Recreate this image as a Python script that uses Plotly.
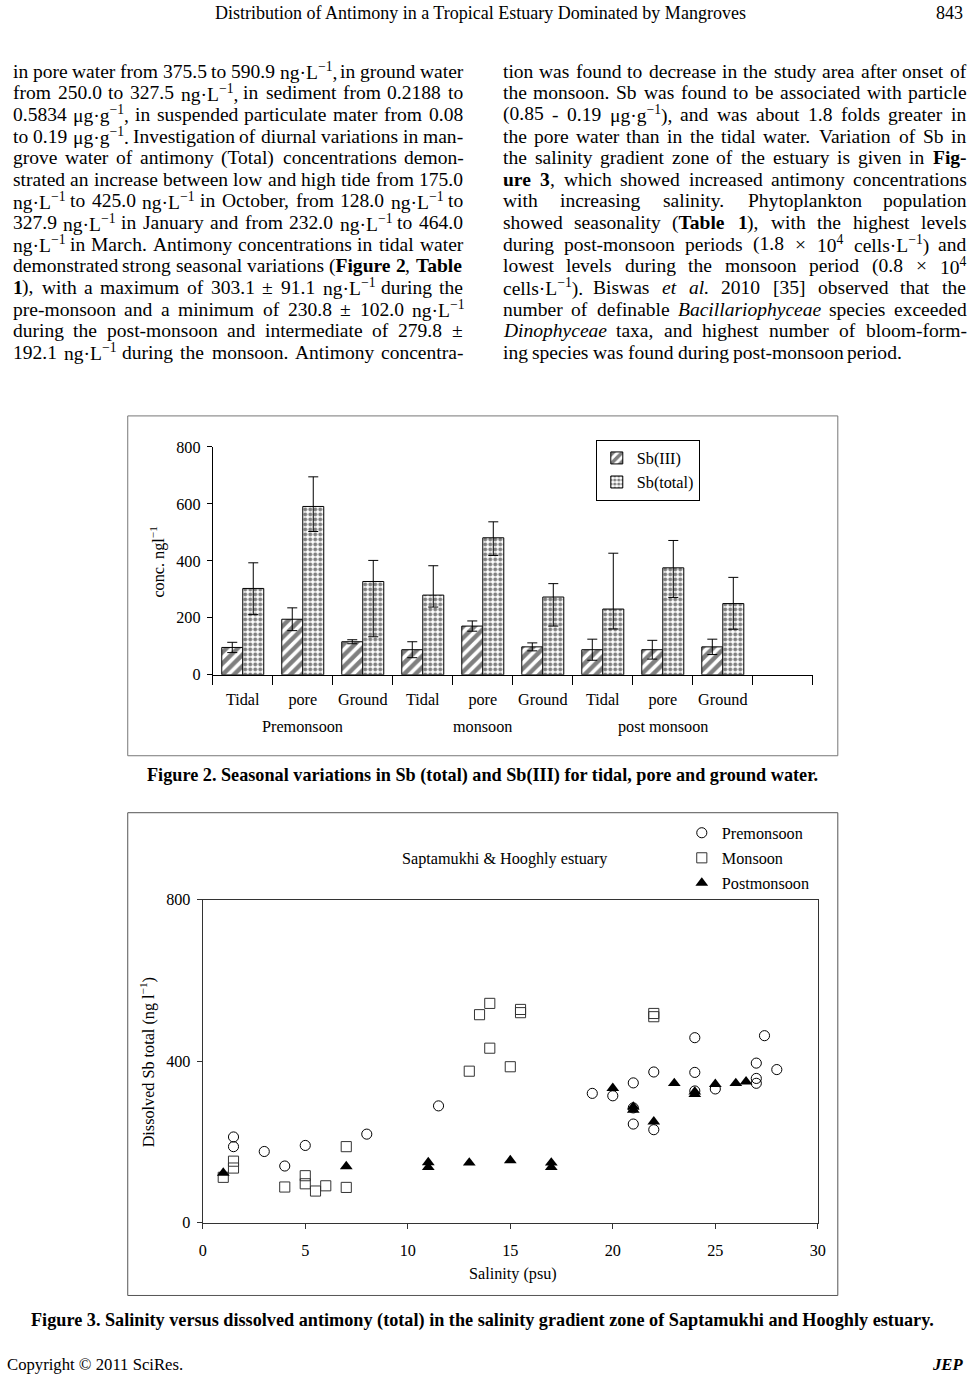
import re
import plotly.graph_objects as go

PAGE_W, PAGE_H = 967, 1386
FONT = "Liberation Serif"
# the photographed page comes out very slightly shrunk about its centre; pre-compensate
SHRINK = 0.9875
CX, CY = PAGE_W / 2, PAGE_H / 2
SHIFT_X, SHIFT_Y = 1.8, 1.8

# ---------------- Figure 2 data ----------------
fig2_categories = ["Tidal", "pore", "Ground", "Tidal", "pore", "Ground", "Tidal", "pore", "Ground"]
fig2_seasons = ["Premonsoon", "monsoon", "post monsoon"]
sb3 = [96, 195, 116, 88, 171, 98, 88, 88, 98]
sb3_err = [18, 40, 7, 28, 18, 14, 37, 33, 27]
sbt = [303.1, 590.9, 327.5, 279.8, 481, 273, 230.8, 375.5, 250.0]
sbt_err_plus = [90, 104, 74, 103, 56, 47, 196, 96, 92]
sbt_err_minus = [92, 88, 194, 42, 62, 102, 70, 104, 90]

# ---------------- Figure 3 data ----------------
pre_sal = [1.5, 1.5, 3, 4, 5, 8, 11.5, 19, 20, 21, 21, 21, 22, 22, 24, 24, 24, 25, 27, 27, 27, 27.4, 28]
pre_sb = [212, 188, 176, 140, 191, 219, 289, 320, 314, 346, 284, 244, 373, 230, 458, 372, 326, 331, 395, 357, 345, 463, 379]
mon_sal = [1, 1.5, 1.5, 4, 5, 5, 5.5, 6, 7, 7, 13, 13.5, 14, 14, 15, 15.5, 15.5, 22, 22]
mon_sb = [112, 152, 135, 88, 116, 96, 78, 91, 188, 87, 375, 515, 543, 432, 386, 520, 528, 510, 518]
post_sal = [1, 7, 11, 11, 13, 15, 17, 17, 20, 21, 21, 22, 23, 24, 24, 25, 26, 26.5]
post_sb = [123, 139, 149, 137, 148, 154, 148, 137, 333, 279, 287, 250, 345, 324, 318, 343, 345, 349]

# ---------------- Page text ----------------
header_title = "Distribution of Antimony in a Tropical Estuary Dominated by Mangroves"
page_number = "843"
left_lines = [
    "in pore water from 375.5 to 590.9 ng·L<sup>−1</sup>, in ground water",
    "from 250.0 to 327.5 ng·L<sup>−1</sup>, in sediment from 0.2188 to",
    "0.5834 μg·g<sup>−1</sup>, in suspended particulate mater from 0.08",
    "to 0.19 μg·g<sup>−1</sup>. Investigation of diurnal variations in man-",
    "grove water of antimony (Total) concentrations demon-",
    "strated an increase between low and high tide from 175.0",
    "ng·L<sup>−1</sup> to 425.0 ng·L<sup>−1</sup> in October, from 128.0 ng·L<sup>−1</sup> to",
    "327.9 ng·L<sup>−1</sup> in January and from 232.0 ng·L<sup>−1</sup> to 464.0",
    "ng·L<sup>−1</sup> in March. Antimony concentrations in tidal water",
    "demonstrated strong seasonal variations (<b>Figure 2</b>, <b>Table</b>",
    "<b>1</b>), with a maximum of 303.1 ± 91.1 ng·L<sup>−1</sup> during the",
    "pre-monsoon and a minimum of 230.8 ± 102.0 ng·L<sup>−1</sup>",
    "during the post-monsoon and intermediate of 279.8 ±",
    "192.1 ng·L<sup>−1</sup> during the monsoon. Antimony concentra-",
]
right_lines = [
    "tion was found to decrease in the study area after onset of",
    "the monsoon. Sb was found to be associated with particle",
    "(0.85 - 0.19 μg·g<sup>−1</sup>), and was about 1.8 folds greater in",
    "the pore water than in the tidal water. Variation of Sb in",
    "the salinity gradient zone of the estuary is given in <b>Fig-</b>",
    "<b>ure 3</b>, which showed increased antimony concentrations",
    "with increasing salinity. Phytoplankton population",
    "showed seasonality (<b>Table 1</b>), with the highest levels",
    "during post-monsoon periods (1.8 × 10<sup>4</sup> cells·L<sup>−1</sup>) and",
    "lowest levels during the monsoon period (0.8 × 10<sup>4</sup>",
    "cells·L<sup>−1</sup>). Biswas <i>et al.</i> 2010 [35] observed that the",
    "number of definable <i>Bacillariophyceae</i> species exceeded",
    "<i>Dinophyceae</i> taxa, and highest number of bloom-form-",
    "ing species was found during post-monsoon period.",
]
caption2 = "Figure 2. Seasonal variations in Sb (total) and Sb(III) for tidal, pore and ground water."
caption3 = ("Figure 3. Salinity versus dissolved antimony (total) in the salinity gradient zone "
            "of Saptamukhi and Hooghly estuary.")
footer_left = "Copyright © 2011 SciRes."
footer_right = "JEP"


def mx(x):
    return CX + (x - CX) / SHRINK + SHIFT_X


def my(y):
    return CY + (y - CY) / SHRINK + SHIFT_Y


def px(x):
    return mx(x) / PAGE_W


def py(y):
    return 1 - my(y) / PAGE_H


def sz(v):
    return v / SHRINK


# Times / Liberation Serif advance widths (1/1000 em)
REG = {' ': 250, '!': 333, '(': 333, ')': 333, ',': 250, '-': 333, '.': 250, '/': 278, ':': 278,
       ';': 278, '[': 333, ']': 333, '±': 549, '×': 564, '·': 250, 'μ': 576, '−': 564, '&': 778,
       '©': 760}
for d in "0123456789":
    REG[d] = 500
REG.update({'A': 722, 'B': 667, 'C': 667, 'D': 722, 'E': 611, 'F': 556, 'G': 722, 'H': 722, 'I': 333,
            'J': 389, 'K': 722, 'L': 611, 'M': 889, 'N': 722, 'O': 722, 'P': 556, 'Q': 722, 'R': 667,
            'S': 556, 'T': 611, 'U': 722, 'V': 722, 'W': 944, 'X': 722, 'Y': 722, 'Z': 611,
            'a': 444, 'b': 500, 'c': 444, 'd': 500, 'e': 444, 'f': 333, 'g': 500, 'h': 500, 'i': 278,
            'j': 278, 'k': 500, 'l': 278, 'm': 778, 'n': 500, 'o': 500, 'p': 500, 'q': 500, 'r': 333,
            's': 389, 't': 278, 'u': 500, 'v': 500, 'w': 722, 'x': 500, 'y': 500, 'z': 444})
BOLD = {'a': 500, 'b': 556, 'd': 556, 'h': 556, 'n': 556, 'p': 556, 'r': 444, 't': 333, 'u': 556,
        'F': 611, 'T': 667, 'S': 556, 'I': 389, 'l': 278, 'y': 500, 'v': 500, 'w': 722, 'k': 556,
        'm': 833, 'f': 333, 'g': 500, 'H': 778, 'P': 611, 'J': 500, 'E': 667}
ITAL = {'a': 500, 'y': 444, 'r': 389, 'B': 611, 'D': 722, 'h': 500}


def em_width(text, bold=False):
    state = {'b': bold, 'i': False, 'sup': False}
    total = 0.0
    for tok in re.split(r'(<[^>]+>)', text):
        if tok.startswith('<') and tok.endswith('>'):
            name = tok.strip('</>')
            state[name] = not tok.startswith('</')
            continue
        for ch in tok:
            w = REG.get(ch, 500)
            if state['b']:
                w = BOLD.get(ch, w)
            elif state['i']:
                w = ITAL.get(ch, w)
            if state['sup']:
                w *= 0.7
            total += w
    return total / 1000.0


def split_words(line):
    words = line.split(' ')
    open_tags = []
    out = []
    for w in words:
        prefix = ''.join('<%s>' % t for t in open_tags)
        for m in re.finditer(r'<(/?)(\w+)>', w):
            if m.group(1):
                if m.group(2) in open_tags:
                    open_tags.remove(m.group(2))
            else:
                open_tags.append(m.group(2))
        suffix = ''.join('</%s>' % t for t in reversed(open_tags))
        out.append(prefix + w + suffix)
    return out


annotations = []


def add_text(x, y, text, size, xanchor='left', angle=0, weight='normal', style='normal'):
    annotations.append(dict(x=x, y=y, xref='paper', yref='paper', text=text, showarrow=False,
                            xanchor=xanchor, yanchor='middle', textangle=angle,
                            font=dict(family=FONT, size=size, color='black', weight=weight, style=style)))


def add_word(x, y, word, size):
    # whole-word bold / italic handled through the font, not markup
    m = re.fullmatch(r'<(b|i)>([^<]*)</\1>', word)
    if m:
        if m.group(1) == 'b':
            add_text(x, y, m.group(2), size, weight='bold')
        else:
            add_text(x, y, m.group(2), size, style='italic')
        return
    m = re.fullmatch(r'<b>([^<]*)</b>([^<]*)', word)
    if m:
        add_text(x, y, m.group(1), size, weight='bold')
        add_text(x + em_width(m.group(1), bold=True) * size / PAGE_W, y, m.group(2), size)
        return
    add_text(x, y, word, size)


# ---- body columns, justified ----
columns = [(left_lines, 12, 462, True), (right_lines, 502, 965, False)]
ratios = []
for lines, x0, x1, _ in columns:
    for ln in lines[:-1]:
        wds = split_words(ln)
        ratios.append((mx(x1) - mx(x0)) / (sum(em_width(w) for w in wds) + 0.25 * (len(wds) - 1)))
BODY = min(sz(19.3), min(ratios) * 0.995)
LINE0, LSTEP = 70, 21.65

for lines, x0, x1, last_justified in columns:
    X0, X1 = mx(x0), mx(x1)
    for k, ln in enumerate(lines):
        wds = split_words(ln)
        widths = [em_width(w) * BODY for w in wds]
        justify = (k < len(lines) - 1) or last_justified
        if justify and len(wds) > 1:
            gap = (X1 - X0 - sum(widths)) / (len(wds) - 1)
        else:
            gap = 0.25 * BODY
        x = X0
        yv = py(LINE0 + k * LSTEP)
        for w, wd in zip(wds, widths):
            add_word((x - 1) / PAGE_W, yv, w, BODY)
            x += wd + gap

# header / footer (kept inside the page)
header_y = max(my(10), 5.5)
footer_y = min(my(1378), PAGE_H - 12)
add_text(px(481), 1 - header_y / PAGE_H, header_title, sz(17.8), xanchor='center')
add_text(px(965), 1 - header_y / PAGE_H, page_number, sz(17.8), xanchor='right')
add_text(1 / PAGE_W, 1 - footer_y / PAGE_H, footer_left, sz(16.5))
add_text(px(965), 1 - footer_y / PAGE_H, footer_right, sz(16.5), xanchor='right',
         weight='bold', style='italic')

# captions
cap_size2 = 665 / em_width(caption2, bold=True)
cap_size3 = 895 / em_width(caption3, bold=True)
cap_size = sz((cap_size2 + cap_size3) / 2)
add_text(px(483), py(775), caption2, cap_size, xanchor='center', weight='bold')
add_text(px(483), py(1320), caption3, cap_size, xanchor='center', weight='bold')

# ---------------- figure ----------------
fig = go.Figure()
xs = list(range(len(fig2_categories)))
fig.add_trace(go.Bar(
    x=xs, y=sb3, name="Sb(III)", xaxis="x", yaxis="y", legend="legend", legendgroup="a",
    marker=dict(color="white", line=dict(color="black", width=1),
                pattern=dict(shape="/", fgcolor="black", bgcolor="white", size=8, solidity=0.55)),
    error_y=dict(type="data", array=sb3_err, color="black", thickness=1, width=5),
))
fig.add_trace(go.Bar(
    x=xs, y=sbt, name="Sb(total)", xaxis="x", yaxis="y", legend="legend", legendgroup="b",
    marker=dict(color="white", line=dict(color="black", width=1),
                pattern=dict(shape=".", fgcolor="black", bgcolor="white", size=5, solidity=0.5)),
    error_y=dict(type="data", symmetric=False, array=sbt_err_plus, arrayminus=sbt_err_minus,
                 color="black", thickness=1, width=5),
))

fig.add_trace(go.Scatter(
    x=pre_sal, y=pre_sb, mode="markers", name="Premonsoon", xaxis="x2", yaxis="y2",
    legend="legend2", legendgroup="c",
    marker=dict(symbol="circle-open", size=sz(10), color="black", line=dict(width=1, color="black")),
))
fig.add_trace(go.Scatter(
    x=mon_sal, y=mon_sb, mode="markers", name="Monsoon", xaxis="x2", yaxis="y2",
    legend="legend2", legendgroup="d",
    marker=dict(symbol="square-open", size=sz(10), color="#333333", line=dict(width=1, color="#333333")),
))
fig.add_trace(go.Scatter(
    x=post_sal, y=post_sb, mode="markers", name="Postmonsoon", xaxis="x2", yaxis="y2",
    legend="legend2", legendgroup="e",
    marker=dict(symbol="triangle-up", size=sz(11), color="black"),
))

# chart labels
CH = sz(16)
for i, s in enumerate(fig2_seasons):
    annotations.append(dict(x=3 * i + 1, y=py(726), xref="x", yref="paper", text=s, showarrow=False,
                            xanchor="center", yanchor="middle",
                            font=dict(family=FONT, size=CH, color="black")))
add_text(px(158), py(561), "conc. ngl<sup>−1</sup>", CH, xanchor='center', angle=-90)
add_text(px(505), py(858), "Saptamukhi &amp; Hooghly estuary", CH, xanchor='center')
add_text(px(148), py(1062), "Dissolved Sb total (ng l<sup>−1</sup>)", CH, xanchor='center', angle=-90)
add_text(px(513), py(1274), "Salinity (psu)", CH, xanchor='center')

tickfont = dict(family=FONT, size=CH, color="black")
fig.update_layout(
    width=PAGE_W, height=PAGE_H, autosize=False,
    margin=dict(l=0, r=0, t=0, b=0),
    paper_bgcolor="white", plot_bgcolor="white",
    barmode="group", bargap=0.3, bargroupgap=0,
    font=dict(family=FONT, size=CH, color="black"),
    xaxis=dict(domain=[px(213), px(813)], anchor="y", range=[-0.5, 9.5],
               tickmode="array", tickvals=xs, ticktext=fig2_categories, ticks="",
               ticklabelstandoff=10, tickfont=tickfont,
               minor=dict(tickvals=[v - 0.5 for v in range(11)], ticks="outside", ticklen=9,
                          tickcolor="black", tickwidth=1),
               showline=True, linecolor="black", linewidth=1, showgrid=False, zeroline=False),
    yaxis=dict(domain=[py(674), py(446)], anchor="x", range=[0, 800], dtick=200,
               ticks="outside", ticklen=5, tickcolor="black", tickfont=tickfont, ticklabelstandoff=3,
               showline=True, linecolor="black", linewidth=1, showgrid=False, zeroline=False),
    xaxis2=dict(domain=[px(203), px(818)], anchor="y2", range=[0, 30], dtick=5,
                ticks="outside", ticklen=5, tickcolor="#333333", tickfont=tickfont, ticklabelstandoff=8,
                showline=True, mirror=True, linecolor="#333333", linewidth=1.2,
                showgrid=False, zeroline=False),
    yaxis2=dict(domain=[py(1222), py(899)], anchor="x2", range=[0, 800], tickvals=[0, 400, 800],
                ticks="outside", ticklen=5, tickcolor="#333333", tickfont=tickfont, ticklabelstandoff=3,
                showline=True, mirror=True, linecolor="#333333", linewidth=1.2,
                showgrid=False, zeroline=False),
    legend=dict(x=px(596), y=py(439), xanchor="left", yanchor="top", bgcolor="white",
                bordercolor="black", borderwidth=1, font=dict(family=FONT, size=CH, color="black"),
                tracegroupgap=0, itemwidth=30),
    legend2=dict(x=px(682), y=py(815), xanchor="left", yanchor="top", bgcolor="rgba(0,0,0,0)",
                 borderwidth=0, font=dict(family=FONT, size=CH, color="black"),
                 tracegroupgap=1, itemwidth=30),
    annotations=annotations,
    shapes=[
        dict(type="rect", xref="paper", yref="paper", x0=px(128), x1=px(838), y0=py(755), y1=py(415),
             line=dict(color="#777777", width=1)),
        dict(type="rect", xref="paper", yref="paper", x0=px(128), x1=px(838), y0=py(1295), y1=py(812),
             line=dict(color="#555555", width=1)),
    ],
    showlegend=True,
)

fig.write_html("out.html", config={"displayModeBar": False},
               post_script="document.body.style.margin='0';document.body.style.overflow='hidden';")
